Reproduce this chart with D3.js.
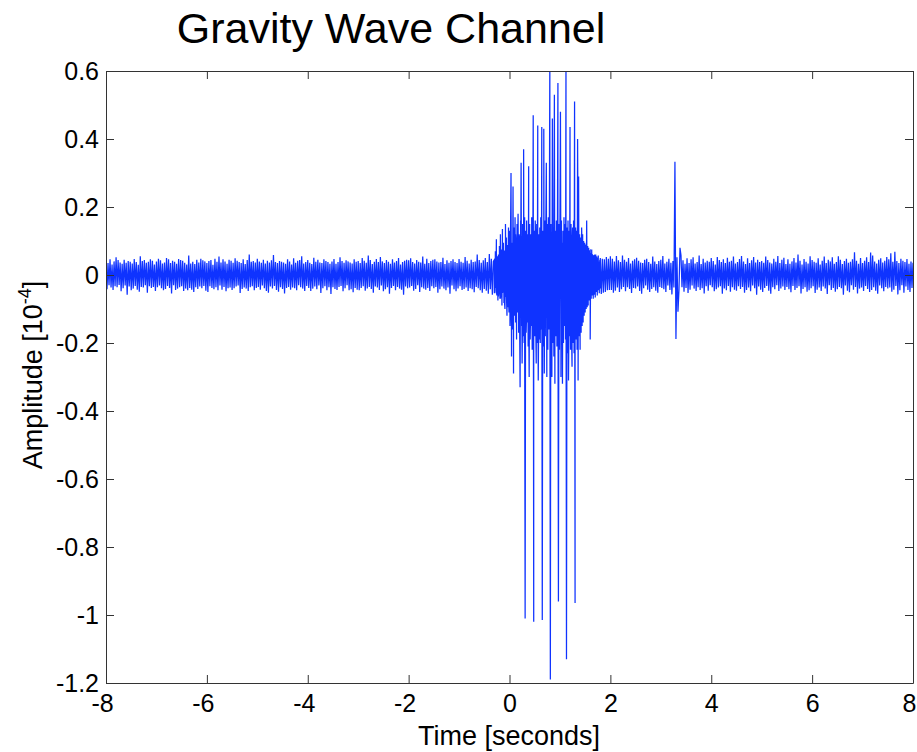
<!DOCTYPE html>
<html>
<head>
<meta charset="utf-8">
<script src="https://cdn.jsdelivr.net/npm/d3@7"></script>
<style>
  body { margin: 0; background: #fff; }
  text { font-family: "Liberation Sans", Arial, Helvetica, sans-serif; }
</style>
</head>
<body>
<div id="viz"></div>
<script>
// amplitudes are stored in thousandths of the axis unit (10^-4)
const noiseStart = -8, noiseStep = 0.02;
const noiseMilli = [
  38,-42,35,-30,46,-37,31,-44,40,-33,52,-36,44,-29,37,-48,33,-39,45,-31,36,-58,41,-34,39,
  -45,34,-40,47,-32,38,-43,30,-49,55,-35,41,-37,44,-30,36,-52,39,-33,46,-38,42,-35,31,-47,
  40,-36,48,-31,43,-39,34,-45,37,-41,50,-32,46,-38,35,-54,42,-30,39,-44,33,-40,47,-36,44,
  -33,42,-47,36,-40,31,-45,57,-38,34,-43,39,-50,32,-36,45,-41,37,-34,48,-39,43,-32,40,-46,
  35,-50,41,-33,44,-38,30,-42,48,-36,39,-45,54,-31,37,-43,46,-35,40,-48,33,-39,45,-37,42,
  -44,36,-39,49,-34,42,-31,38,-53,35,-41,46,-37,32,-40,44,-47,60,-36,39,-33,41,-45,37,-38,
  48,-35,40,-43,36,-31,45,-39,34,-47,42,-52,37,-34,43,-40,59,-32,38,-44,35,-49,41,-36,39,
  -41,37,-54,33,-38,46,-35,40,-43,31,-37,49,-39,36,-45,42,-30,44,-36,55,-40,34,-47,38,-32,
  44,-38,36,-47,32,-40,51,-34,39,-42,45,-31,37,-53,35,-39,46,-33,41,-45,38,-36,33,-56,40,
  -36,47,-41,33,-44,38,-35,52,-32,41,-48,36,-39,43,-30,40,-45,37,-42,34,-51,46,-38,39,-43,
  41,-45,35,-38,50,-33,42,-46,36,-40,57,-35,44,-41,32,-52,39,-34,47,-37,38,-44,53,-31,40,
  -48,35,-42,44,-36,39,-55,33,-38,46,-32,37,-45,41,-35,50,-40,31,-43,38,-58,42,-34,45,-39,
  43,-37,49,-32,38,-46,34,-41,44,-30,39,-50,37,-36,54,-40,33,-43,48,-38,35,-47,41,-33,45,
  -39,46,-35,40,-52,37,-42,38,-34,51,-40,32,-45,43,-37,36,-55,41,-31,46,-42,38,-48,35,-40,
  47,-33,39,-44,36,-41,53,-37,42,-47,34,-39,45,-42,38,-51,40,-35,60,-39,44,-45,36,-52,43,
  -41,50,-46,38,-55,62,-42,48,-58,40,-52,68,-47,55,-63,45,-70,75,-52,60,-78,66,-60,84,-70,
  85,-90,70,-110,95,-80,120,-100,75,-130,105,-85,115,-95,90,-120,100,-110,80,-105,125,-90,110,-100,95,
  -115,100,-95,120,-105,85,-125,110,-90,115,-100,130,-110,95,-120,105,-85,125,-115,100,-95,110,-130,90,-105,
  120,-100,95,-115,105,-90,110,-120,85,-100,115,-95,90,-110,100,-85,95,-105,80,-90,85,-100,75,-85,70,
  -85,70,-80,66,-75,72,-64,60,-70,58,-66,55,-60,57,-54,50,-56,48,-52,46,-50,53,-45,48,-44,
  55,-44,48,-52,40,-46,56,-37,43,-50,38,-42,57,-35,45,-48,39,-36,50,-41,34,-53,42,-38,46,
  -40,51,-34,42,-47,37,-55,35,-39,45,-31,48,-43,38,-50,33,-41,54,-36,40,-46,32,-52,41,-35,
  45,-38,56,-42,34,-50,39,-31,48,-44,36,-57,41,-37,333,-188,52,-108,-45,80,58,-36,43,-49,33,
  -38,49,-53,35,-43,46,-31,52,-40,34,-47,38,-36,57,-44,32,-39,48,-54,37,-33,42,-46,39,-30,
  50,-36,41,-48,31,-42,53,-37,44,-33,38,-55,46,-40,35,-45,51,-32,39,-49,42,-36,54,-43,34,
  -46,38,-33,47,-41,56,-35,40,-52,32,-44,49,-37,35,-48,43,-31,53,-39,37,-58,45,-34,38,-43,
  41,-50,36,-38,54,-32,44,-46,37,-55,34,-36,48,-42,39,-30,56,-47,35,-40,45,-34,51,-44,32,
  -35,46,-42,33,-51,40,-32,50,-44,37,-38,60,-33,42,-54,31,-41,47,-36,39,-49,34,-45,55,-39,
  44,-33,39,-53,36,-43,49,-37,31,-47,42,-34,54,-40,35,-56,45,-30,40,-44,52,-38,33,-49,38,
  -42,55,-35,45,-39,32,-58,41,-31,48,-46,36,-51,39,-30,46,-43,67,-35,42,-54,33,-40,50,-37,
  35,-47,42,-32,52,-41,38,-50,66,-44,57,-36,40,-46,34,-55,45,-31,49,-39,37,-48,42,-35,53,
  -40,46,-37,64,-49,39,-43,68,-32,41,-57,35,-45,48,-30,42,-52,38,-34,47,-44,33,-50,40,-38,
  36
];

// the event itself, sampled finer
const burstStart = -0.3, burstStep = 0.01;
const burstMilli = [
  45,-52,70,-38,105,-60,48,-75,60,-44,
  85,-70,120,-55,66,-90,135,-48,95,-82,
  72,-100,150,-65,110,-120,88,-95,140,-110,
  130,-150,120,300,-240,95,-160,260,-290,140,
  -120,170,-140,90,-190,150,-110,180,-170,120,
  -130,-330,160,330,-150,-260,150,-180,370,-200,
  170,-1010,130,-170,160,-140,120,-210,320,-300,
  150,-190,120,-150,170,-220,140,470,-1020,130,
  -180,160,-140,-260,150,-200,440,-310,120,-190,
  140,-200,170,-160,435,-1015,130,-210,430,-290,
  160,-180,120,330,-300,150,-220,170,-160,140,
  650,-1190,150,-230,-300,460,-200,140,-240,530,
  -320,130,-180,160,-210,120,565,-960,150,-220,
  140,480,-300,160,-190,-320,130,-200,170,-150,
  150,-190,650,-1130,140,-230,160,-310,130,-180,
  435,-220,150,-170,-270,140,-200,160,-230,510,
  -965,140,-190,130,-220,400,-310,290,-180,120,
  -220,110,-170,140,-150,120,-140,100,-120,95,
  -110,90,-100,160,-95,85,-90,80,-75,70,
  -190,65,-70,75,-60,58,-65,55,-58,60,
  -55,60,-50,45,-55,50,-45,40,-50,45,
  -40
];

const xTicks = [-8, -6, -4, -2, 0, 2, 4, 6, 8];
const yTicks = [0.6, 0.4, 0.2, 0, -0.2, -0.4, -0.6, -0.8, -1, -1.2];
const yTickLabels = ["0.6", "0.4", "0.2", "0", "-0.2", "-0.4", "-0.6", "-0.8", "-1", "-1.2"];

const W = 917, H = 752;
const plotL = 106, plotR = 913, plotT = 71, plotB = 683;

const svg = d3.select("#viz")
  .append("svg")
  .attr("width", W)
  .attr("height", H);

const x = d3.scaleLinear().domain([-8, 8]).range([plotL, plotR]);
const y = d3.scaleLinear().domain([-1.2, 0.6]).range([plotB, plotT]);

const points = noiseMilli.map((v, i) => ({ t: noiseStart + i * noiseStep, v: v / 1000 }))
  .concat(burstMilli.map((v, i) => ({ t: burstStart + i * burstStep, v: v / 1000 })))
  .sort((a, b) => a.t - b.t);

svg.append("clipPath")
   .attr("id", "plotclip")
   .append("rect")
   .attr("x", plotL)
   .attr("y", plotT)
   .attr("width", plotR - plotL)
   .attr("height", plotB - plotT);

svg.append("path")
   .datum(points)
   .attr("clip-path", "url(#plotclip)")
   .attr("fill", "none")
   .attr("stroke", "#0f33ff")
   .attr("stroke-width", 1.25)
   .attr("d", d3.line().x(d => x(d.t)).y(d => y(d.v)));

function styleAxis(g) {
  g.attr("font-size", 25)
   .attr("font-family", '"Liberation Sans", Arial, sans-serif');
  g.select(".domain").attr("stroke", "#333");
  g.selectAll(".tick line").attr("stroke", "#333");
  g.selectAll(".tick text").attr("fill", "#000");
}

svg.append("g")
   .attr("transform", `translate(0,${plotB})`)
   .call(d3.axisBottom(x).tickValues(xTicks).tickFormat(d => d)
           .tickSizeInner(-8).tickSizeOuter(0).tickPadding(11))
   .call(styleAxis)
   .selectAll(".tick text")
   .attr("dx", d => (d < 0 || d === 8) ? -4 : 0);

svg.append("g")
   .attr("transform", `translate(0,${plotT})`)
   .call(d3.axisTop(x).tickValues(xTicks).tickFormat("")
           .tickSizeInner(-8).tickSizeOuter(0))
   .call(styleAxis);

svg.append("g")
   .attr("transform", `translate(${plotL},0)`)
   .call(d3.axisLeft(y).tickValues(yTicks).tickFormat((d, i) => yTickLabels[i])
           .tickSizeInner(-8).tickSizeOuter(0).tickPadding(7))
   .call(styleAxis);

svg.append("g")
   .attr("transform", `translate(${plotR},0)`)
   .call(d3.axisRight(y).tickValues(yTicks).tickFormat("")
           .tickSizeInner(-8).tickSizeOuter(0))
   .call(styleAxis);

svg.append("text")
   .attr("x", 391)
   .attr("y", 43)
   .attr("text-anchor", "middle")
   .style("font-size", "43px")
   .text("Gravity Wave Channel");

svg.append("text")
   .attr("x", 509)
   .attr("y", 745)
   .attr("text-anchor", "middle")
   .style("font-size", "27px")
   .text("Time [seconds]");

const ylab = svg.append("text")
   .attr("transform", "translate(42,375) rotate(-90)")
   .attr("text-anchor", "middle")
   .style("font-size", "27px");
ylab.append("tspan").text("Amplitude [10");
ylab.append("tspan").attr("dy", -11).style("font-size", "18px").text("-4");
ylab.append("tspan").attr("dy", 11).text("]");
</script>
</body>
</html>
